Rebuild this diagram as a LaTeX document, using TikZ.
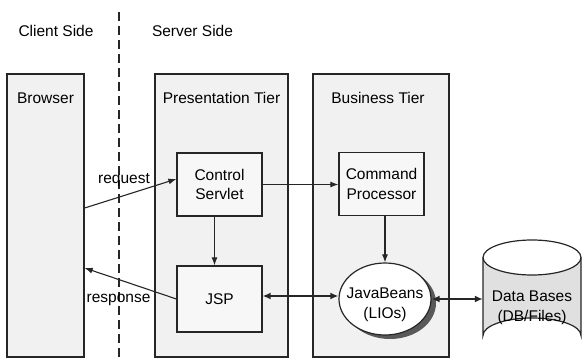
\documentclass[tikz,border=0pt]{standalone}
\usepackage{fontspec}
\setmainfont{Liberation Sans}
\usetikzlibrary{arrows.meta,shapes.geometric,shadows}
\begin{document}
\begin{tikzpicture}[x=1pt,y=-1pt,
  every node/.style={font=\fontsize{15.5}{19.5}\selectfont, inner sep=0pt, align=center},
  tier/.style={draw=black!85, line width=1.3pt, fill=gray!11, rectangle, minimum height=283pt},
  box/.style={draw=black!85, line width=1.2pt, fill=gray!6, rectangle, minimum width=85pt},
  arr/.style={line width=1.1pt, draw=black!85, -{Latex[length=8pt,width=6pt]}},
  dbl/.style={line width=1.8pt, draw=black!85, {Latex[length=8pt,width=7pt]}-{Latex[length=8pt,width=7pt]}},
  lbl/.style={font=\fontsize{15.5}{19.5}\selectfont}
]
\useasboundingbox (0,0) rectangle (582,359);
% dashed divider
\coordinate (dtop) at (119,12);
\coordinate (dbot) at (119,359);
\draw[line width=1.4pt, black!85, dash pattern=on 9pt off 5pt] (dtop) -- (dbot);
\node[lbl] (client) at (56,31) {Client Side};
\node[lbl] (server) at (192.5,31) {Server Side};
% tiers
\node[tier, minimum width=77pt] (browser) at (45.5,215.5) {};
\node[tier, minimum width=133pt] (pres) at (221.5,215.5) {};
\node[tier, minimum width=136pt] (bus) at (381,215.5) {};
\node[lbl] (browserlbl) at (45.5,98) {Browser};
\node[lbl] (preslbl) at (221.5,98) {Presentation Tier};
\node[lbl] (buslbl) at (378,98) {Business Tier};
% boxes
\node[box, minimum height=63pt] (servlet) at (219.5,184.5) {Control\\Servlet};
\node[box, minimum height=66pt] (jsp) at (219.5,299) {JSP};
\node[box, minimum height=63pt] (cmd) at (381.5,184) {Command\\Processor};
% ellipse with shadow
\node[ellipse, draw=black!85, line width=1.2pt, fill=white, minimum width=92pt, minimum height=72pt,
  drop shadow={shadow xshift=5pt, shadow yshift=-4pt, fill=black!65, opacity=1}] (beans) at (385,299) {};
\node[lbl] (beanstext) at (385,305) {JavaBeans\\(LIOs)};
% database cylinder
\node[minimum width=98pt, minimum height=113pt] (db) at (532,297) {};
\fill[gray!24] (483,257.5) -- (483,335.5) arc[start angle=180, end angle=360, x radius=49pt, y radius=-17.5pt] -- (581,257.5) arc[start angle=0, end angle=180, x radius=49pt, y radius=-17.5pt] -- cycle;
\draw[line width=1.2pt, black!85] (483,257.5) -- (483,335.5) arc[start angle=180, end angle=360, x radius=49pt, y radius=-17.5pt] -- (581,257.5);
\draw[line width=1.2pt, black!85] (532,257.5) ellipse[x radius=49pt, y radius=17.5pt];
\node[lbl] (dbtext) at (532,308) {Data Bases\\(DB/Files)};
% connectors
\draw[arr] ([yshift=7.5pt]browser.east) -- ([yshift=5.5pt]servlet.west);
\node[lbl] (reqlbl) at (124,180) {request};
\draw[arr] (jsp.west) -- ([yshift=-52.5pt]browser.east);
\node[lbl] (resplbl) at (118.5,300) {response};
\draw[arr] (servlet.east) -- (servlet.east -| cmd.west);
\draw[arr] ([xshift=-5pt]servlet.south) -- ([xshift=-5pt]jsp.north);
\draw[arr] (beans.north |- cmd.south) -- (beans.north);
\draw[dbl] ([yshift=3pt]jsp.east) -- ([yshift=3pt]jsp.east -| beans.west);
\draw[dbl] (beans.east) -- (beans.east -| db.west);
\end{tikzpicture}
\end{document}
